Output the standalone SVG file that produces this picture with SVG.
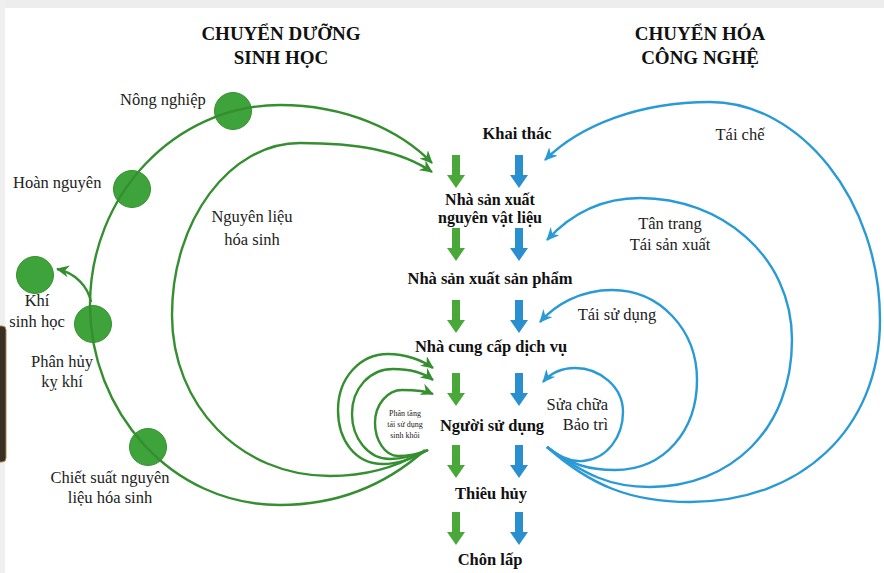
<svg xmlns="http://www.w3.org/2000/svg" xmlns:xlink="http://www.w3.org/1999/xlink" width="884" height="573" viewBox="0 0 884 573">
  <defs>
    <style>
      .title { font-family: "Liberation Serif", "DejaVu Serif", serif; font-weight: bold; font-size: 19px; fill: #111; text-anchor: middle; }
      .stage { font-family: "Liberation Serif", "DejaVu Serif", serif; font-weight: bold; font-size: 16.5px; fill: #111; text-anchor: middle; }
      .lbl { font-family: "Liberation Serif", "DejaVu Serif", serif; font-size: 16.5px; fill: #222; }
      .mid { text-anchor: middle; }
      .small { font-family: "Liberation Serif", "DejaVu Serif", serif; font-size: 8px; fill: #222; text-anchor: middle; }
      .gArc { fill: none; stroke: #358f30; stroke-width: 2.4; marker-end: url(#headG); }
      .bArc { fill: none; stroke: #2a9ad6; stroke-width: 2.4; marker-end: url(#headB); }
      .node { fill: #3fa33b; stroke: #34922f; stroke-width: 1; }
      .gDown { fill: #4aa83a; }
      .bDown { fill: #2a8fcf; }
    </style>
    <marker id="headG" markerUnits="userSpaceOnUse" markerWidth="14" markerHeight="12" refX="12" refY="6" orient="auto">
      <path d="M0,0 L13,6 L0,12 L4,6 Z" fill="#358f30"/>
    </marker>
    <marker id="headB" markerUnits="userSpaceOnUse" markerWidth="14" markerHeight="12" refX="12" refY="6" orient="auto">
      <path d="M0,0 L13,6 L0,12 L4,6 Z" fill="#2a9ad6"/>
    </marker>
    <!-- block arrow pointing down, tip at (0,33) -->
    <path id="down" d="M-4,0 H4 V20 H9 L0,33 L-9,20 H-4 Z"/>
  </defs>

  <!-- page -->
  <rect x="0" y="0" width="884" height="573" fill="#ffffff"/>
  <rect x="0" y="0" width="884" height="8" fill="#ededed"/>
  <rect x="0" y="0" width="5" height="573" fill="#efefef"/>
  <rect x="-4" y="326" width="10" height="136" rx="4" fill="#3a2f25" stroke="#a98650" stroke-width="1"/>

  <!-- headings -->
  <g id="heading-bio">
    <text class="title" x="281" y="40">CHUYỂN DƯỠNG</text>
    <text class="title" x="281" y="64">SINH HỌC</text>
  </g>
  <g id="heading-tech">
    <text class="title" x="700" y="40">CHUYỂN HÓA</text>
    <text class="title" x="700" y="64">CÔNG NGHỆ</text>
  </g>

  <!-- biological cycle nodes -->
  <g id="nong-nghiep">
    <circle class="node" cx="233" cy="111" r="18.5"/>
    <text class="lbl" x="120" y="105">Nông nghiệp</text>
  </g>
  <g id="hoan-nguyen">
    <circle class="node" cx="132" cy="189" r="18.5"/>
    <text class="lbl" x="13" y="188">Hoàn nguyên</text>
  </g>
  <g id="khi-sinh-hoc">
    <circle class="node" cx="35" cy="275" r="18.5"/>
    <text class="lbl mid" x="37" y="306">Khí</text>
    <text class="lbl mid" x="37" y="327">sinh học</text>
  </g>
  <g id="phan-huy">
    <circle class="node" cx="93" cy="324" r="18.5"/>
    <text class="lbl mid" x="62" y="367">Phân hủy</text>
    <text class="lbl mid" x="62" y="387">kỵ khí</text>
  </g>
  <g id="chiet-suat">
    <circle class="node" cx="148" cy="447" r="18.5"/>
    <text class="lbl mid" x="110" y="483">Chiết suất nguyên</text>
    <text class="lbl mid" x="110" y="503">liệu hóa sinh</text>
  </g>
  <g id="nguyen-lieu-hoa-sinh">
    <text class="lbl mid" x="252" y="222">Nguyên liệu</text>
    <text class="lbl mid" x="252" y="245">hóa sinh</text>
  </g>
  <g id="phan-tang">
    <text class="small" x="405" y="416">Phân tầng</text>
    <text class="small" x="405" y="427">tái sử dụng</text>
    <text class="small" x="405" y="438">sinh khối</text>
  </g>

  <!-- value chain stages -->
  <g id="khai-thac"><text class="stage" x="517" y="139">Khai thác</text></g>
  <g id="nsx-nguyen-vat-lieu" style="font-size:16px">
    <text class="stage" x="490" y="205" style="font-size:16px">Nhà sản xuất</text>
    <text class="stage" x="490" y="223" style="font-size:16px">nguyên vật liệu</text>
  </g>
  <g id="nsx-san-pham"><text class="stage" x="490" y="284">Nhà sản xuất sản phẩm</text></g>
  <g id="cung-cap-dich-vu"><text class="stage" x="491" y="352">Nhà cung cấp dịch vụ</text></g>
  <g id="nguoi-su-dung"><text class="stage" x="492" y="431">Người sử dụng</text></g>
  <g id="thieu-huy"><text class="stage" x="491" y="499">Thiêu hủy</text></g>
  <g id="chon-lap"><text class="stage" x="490" y="565">Chôn lấp</text></g>

  <!-- technical cycle labels -->
  <g id="tai-che"><text class="lbl mid" x="740" y="140">Tái chế</text></g>
  <g id="tan-trang">
    <text class="lbl mid" x="670" y="229">Tân trang</text>
    <text class="lbl mid" x="670" y="250">Tái sản xuất</text>
  </g>
  <g id="tai-su-dung"><text class="lbl mid" x="617" y="320">Tái sử dụng</text></g>
  <g id="sua-chua">
    <text class="lbl" x="608" y="410" text-anchor="end">Sửa chữa</text>
    <text class="lbl" x="608" y="430" text-anchor="end">Bảo trì</text>
  </g>

  <!-- connectors -->
  <g id="connectors">
    <!-- flow down the chain -->
    <g class="gDown">
      <use xlink:href="#down" x="456" y="155"/>
      <use xlink:href="#down" x="456" y="228"/>
      <use xlink:href="#down" x="456" y="300"/>
      <use xlink:href="#down" x="456" y="373"/>
      <use xlink:href="#down" x="456" y="445"/>
      <use xlink:href="#down" x="456" y="512"/>
    </g>
    <g class="bDown">
      <use xlink:href="#down" x="519" y="155"/>
      <use xlink:href="#down" x="519" y="228"/>
      <use xlink:href="#down" x="519" y="300"/>
      <use xlink:href="#down" x="519" y="373"/>
      <use xlink:href="#down" x="519" y="445"/>
      <use xlink:href="#down" x="519" y="512"/>
    </g>

    <!-- biological loops -->
    <path class="gArc" d="M425,450 C380,490 330,505 280,505 C170,505 90,410 90,305 C90,195 175,105 280,105 C345,105 400,130 432,163"/>
    <path class="gArc" d="M422,452 C395,468 365,476 330,476 C240,476 172,405 172,315 C172,220 230,143 300,143 C355,143 400,150 432,172"/>
    <path class="gArc" d="M91,302 C88,287 76,273 57,269"/>
    <path class="gArc" d="M428,450 C410,460 395,464 383,464 C355,464 338,440 338,410 C338,378 360,354 388,354 C405,354 422,360 433,368"/>
    <path class="gArc" d="M428,450 C412,457 400,459 390,459 C368,459 352,438 352,414 C352,388 370,369 393,369 C410,369 424,373 433,380"/>
    <path class="gArc" d="M428,450 C415,455 405,456 398,456 C385,456 375,440 375,423 C375,404 388,390 402,390 C415,390 426,391 433,394"/>

    <!-- technical loops -->
    <path class="bArc" d="M547,447 C590,485 630,502 690,502 C800,502 880,430 880,320 C880,200 800,102 710,102 C640,102 580,125 545,160"/>
    <path class="bArc" d="M547,447 C585,475 610,487 650,487 C730,487 792,430 792,340 C792,255 720,198 640,198 C600,198 570,215 547,240"/>
    <path class="bArc" d="M547,447 C570,465 590,470 615,470 C665,470 697,430 697,380 C697,330 660,290 612,290 C580,290 555,305 540,322"/>
    <path class="bArc" d="M547,447 C560,458 572,462 583,461 C607,459 623,437 623,412 C623,387 600,368 575,368 C560,368 550,374 543,382"/>
  </g>
</svg>
